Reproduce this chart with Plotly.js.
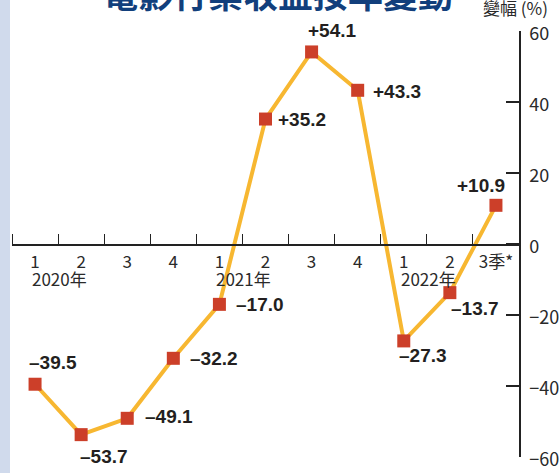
<!DOCTYPE html>
<html>
<head>
<meta charset="utf-8">
<script src="https://cdn.plot.ly/plotly-3.0.1.min.js"></script>
<style>
  html, body { margin: 0; padding: 0; background: #ffffff; }
  #strip { position: absolute; left: 0; top: 0; width: 10px; height: 473px; background: #d0daec; }
  #chart { position: absolute; left: 0; top: 0; width: 560px; height: 473px; }
</style>
</head>
<body>
<div id="strip"></div>
<div id="chart"></div>
<script>
// ---- data ----
const quarterLabels = ["1", "2", "3", "4", "1", "2", "3", "4", "1", "2", "3季*"];
const yearLabels = ["2020年", "2021年", "2022年"];
const yearStartIndex = [0, 4, 8];
const changePct = [-39.5, -53.7, -49.1, -32.2, -17.0, 35.2, 54.1, 43.3, -27.3, -13.7, 10.9];
const yTicks = [-60, -40, -20, 0, 20, 40, 60];
const titleText = "電影行業收益按年變動";
const unitText = "變幅 (%)";

// ---- label placement (style, px) ----
const labelPlace = [
  {anchor: "left",  dx: -8, dy: -22},
  {anchor: "left",  dx: -3, dy: 22},
  {anchor: "left",  dx: 16, dy: -2},
  {anchor: "left",  dx: 15, dy: 0},
  {anchor: "left",  dx: 15, dy: 0},
  {anchor: "left",  dx: 10, dy: 0},
  {anchor: "left",  dx: -6, dy: -21},
  {anchor: "left",  dx: 13, dy: 1},
  {anchor: "left",  dx: -7, dy: 15},
  {anchor: "left",  dx: -1, dy: 16},
  {anchor: "right", dx: 11, dy: -20}
];

const xIdx = quarterLabels.map((_, i) => i);
const boundaries = quarterLabels.map((_, i) => i - 0.5).concat([quarterLabels.length - 0.5]);

const fmt = v => (v > 0 ? "+" : "\u2013") + Math.abs(v).toFixed(1);

const trace = {
  x: xIdx,
  y: changePct,
  type: "scatter",
  mode: "lines+markers",
  line: {color: "#f7b731", width: 4},
  marker: {symbol: "square", size: 13, color: "#cc3f29"},
  hoverinfo: "skip",
  cliponaxis: false
};

const narrow = "Liberation Sans Narrow, Noto Sans CJK TC, sans-serif";

const annotations = [];
changePct.forEach((v, i) => {
  const p = labelPlace[i];
  annotations.push({
    x: i, y: v, xref: "x", yref: "y",
    text: fmt(v), showarrow: false,
    xanchor: p.anchor, yanchor: "middle",
    xshift: p.dx, yshift: -p.dy,
    font: {family: "Liberation Sans, Arial, sans-serif", size: 19, color: "#231f20", weight: "bold"}
  });
});
yearLabels.forEach((t, k) => {
  annotations.push({
    x: yearStartIndex[k] - 0.5, y: -9.7, xref: "x", yref: "y",
    text: t, showarrow: false, xanchor: "left", yanchor: "middle",
    xshift: 18,
    font: {family: narrow, size: 17, color: "#2a2a2a"}
  });
});
annotations.push({
  x: 0.5, y: 1, xref: "paper", yref: "paper",
  text: titleText, showarrow: false, xanchor: "center", yanchor: "bottom",
  xshift: 12, yshift: 11,
  font: {family: "Noto Sans CJK TC, sans-serif", size: 35, color: "#123f7c", weight: "bold"}
});
annotations.push({
  x: 1, y: 1, xref: "paper", yref: "paper",
  text: unitText, showarrow: false, xanchor: "right", yanchor: "middle",
  xshift: 31, yshift: 24,
  font: {family: narrow, size: 17, color: "#2a2a2a"}
});

const layout = {
  width: 560, height: 473,
  margin: {l: 12, r: 41, t: 31, b: 16, pad: 0},
  paper_bgcolor: "rgba(0,0,0,0)",
  plot_bgcolor: "rgba(0,0,0,0)",
  showlegend: false,
  xaxis: {
    range: [-0.5, quarterLabels.length - 0.5],
    anchor: "free", position: 0.5,
    tickmode: "array", tickvals: xIdx, ticktext: quarterLabels,
    ticks: "", showgrid: false, zeroline: false,
    showline: true, linecolor: "#222", linewidth: 1.6,
    ticklabelstandoff: 2,
    tickfont: {family: narrow, size: 17, color: "#2a2a2a"},
    minor: {tickmode: "array", tickvals: boundaries, ticks: "inside", ticklen: 10, tickwidth: 1, tickcolor: "#222", showgrid: false},
    fixedrange: true
  },
  yaxis: {
    range: [-60, 60], side: "right",
    tickmode: "array", tickvals: yTicks,
    ticks: "inside", ticklen: 13, tickwidth: 1.6, tickcolor: "#222",
    showline: true, linecolor: "#222", linewidth: 1.6,
    showgrid: false, zeroline: false,
    ticklabelstandoff: 5, ticklabelshift: 3,
    tickfont: {family: narrow, size: 18, color: "#2a2a2a"},
    fixedrange: true
  },
  annotations: annotations
};

Plotly.newPlot("chart", [trace], layout, {staticPlot: true, displayModeBar: false});
</script>
</body>
</html>
